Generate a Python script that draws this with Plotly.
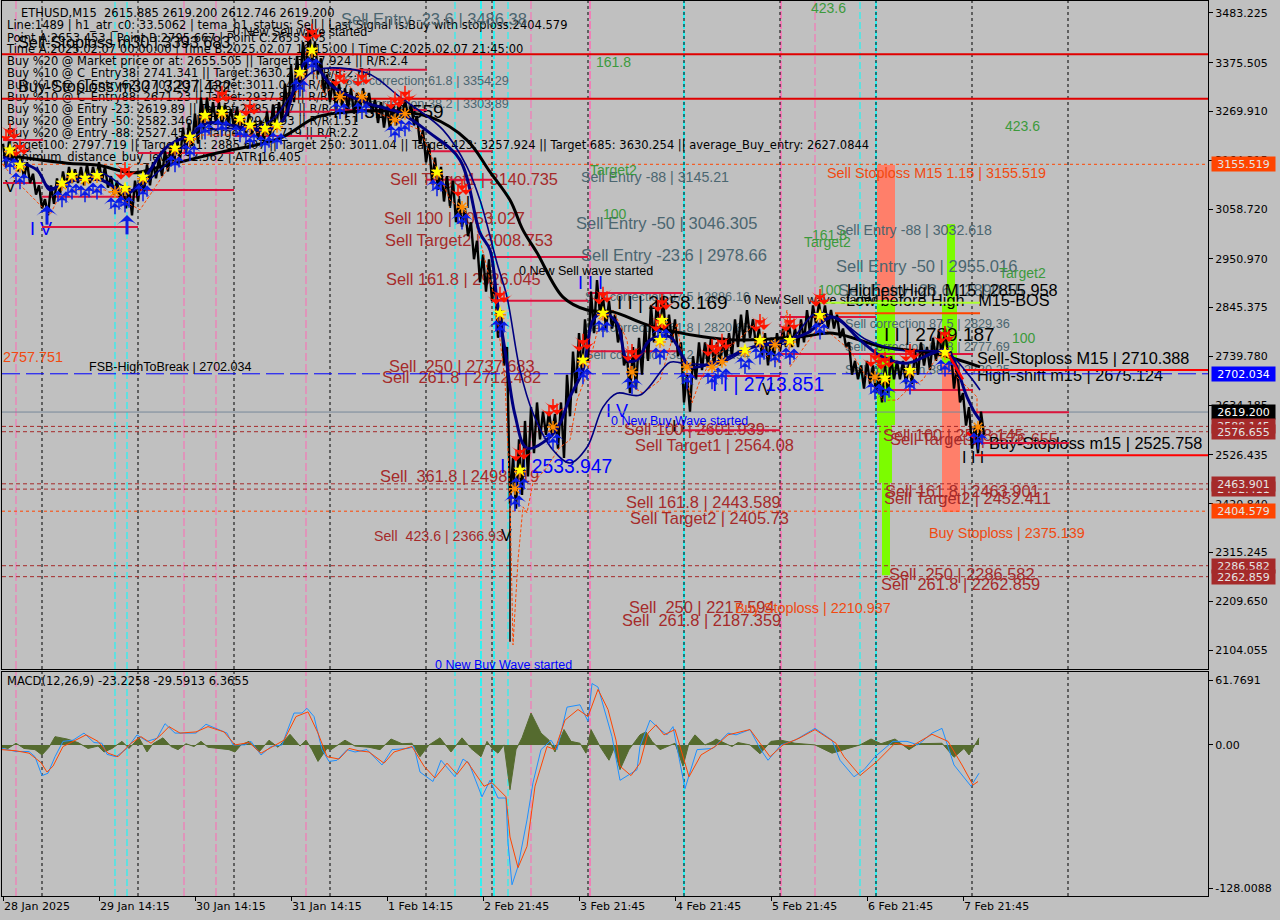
import plotly.graph_objects as go

# ---------- scales / ticks ----------
price_ticks = [3483.225,3375.505,3269.910,3164.315,3058.720,2950.970,2845.375,2739.780,2634.185,2526.435,2420.840,2315.245,2209.650,2104.055]
price_tick_text = ["3483.225","3375.505","3269.910","3164.315","3058.720","2950.970","2845.375","2739.780","2634.185","2526.435","2420.840","2315.245","2209.650","2104.055"]
macd_ticks = [54.5, 0, -121.4]
macd_tick_text = ["61.7691","0.00","-128.0088"]
time_ticks = [3,99,195,291,387,483,579,675,771,867,963]
time_text = ["28 Jan 2025","29 Jan 14:15","30 Jan 14:15","31 Jan 14:15","1 Feb 14:15","2 Feb 21:45","3 Feb 21:45","4 Feb 21:45","5 Feb 21:45","6 Feb 21:45","7 Feb 21:45"]

# ---------- price bars ----------
bar_high = [3200,3205,3190,3170,3160,3135,3110,3080,3110,3125,3140,3150,3145,3150,3155,3150,3160,3150,3130,3120,3110,3105,3120,3130,3155,3160,3170,3185,3200,3215,3235,3245,3265,3300,3300,3290,3290,3285,3275,3280,3260,3265,3250,3250,3270,3285,3290,3330,3370,3390,3420,3450,3420,3385,3350,3340,3330,3320,3320,3310,3320,3310,3295,3290,3280,3285,3290,3295,3285,3260,3230,3200,3170,3150,3130,3120,3080,3060,3030,2990,2960,2950,2900,2840,2760,2520,2560,2600,2630,2640,2620,2620,2615,2640,2700,2750,2790,2820,2880,2905,2870,2860,2830,2800,2740,2760,2780,2810,2850,2860,2870,2830,2820,2770,2700,2740,2770,2770,2780,2770,2780,2790,2820,2830,2840,2820,2800,2790,2780,2790,2800,2810,2800,2820,2840,2850,2855,2850,2840,2830,2800,2770,2730,2720,2730,2720,2700,2720,2740,2730,2730,2725,2750,2770,2760,2780,2795,2800,2750,2720,2660,2630,2590,2620]
bar_low = [3150,3160,3140,3125,3115,3090,3060,3045,3070,3090,3105,3115,3115,3110,3115,3120,3120,3105,3090,3075,3060,3045,3075,3095,3110,3125,3130,3140,3155,3165,3180,3195,3200,3230,3240,3245,3240,3245,3235,3230,3220,3220,3210,3205,3215,3230,3245,3260,3290,3320,3345,3380,3350,3310,3290,3275,3280,3275,3265,3275,3280,3265,3245,3235,3230,3240,3255,3260,3240,3200,3160,3120,3100,3075,3065,3030,3020,3000,2950,2900,2880,2860,2780,2720,2420,2410,2440,2480,2530,2560,2570,2570,2540,2520,2610,2660,2700,2730,2790,2830,2800,2800,2770,2720,2660,2670,2700,2730,2770,2790,2780,2770,2740,2640,2620,2690,2710,2720,2720,2720,2730,2740,2760,2770,2780,2760,2740,2720,2740,2750,2760,2760,2760,2770,2790,2810,2810,2800,2800,2780,2760,2700,2690,2670,2680,2660,2640,2660,2690,2690,2680,2680,2700,2720,2710,2730,2740,2740,2670,2640,2590,2540,2530,2570]
wick_x = [510,510]
wick_price = [2122,2480]

# ---------- moving averages ----------
tema_x = [3,67,97,133,160,217,280,317,350,400,430,467,490,510,523,537,563,587,613,647,703,737,800,833,883,933,980]
tema_price = [3176,3158,3154,3137,3150,3180,3212,3258,3269,3269,3258,3208,3139,3078,3013,2964,2868,2840,2836,2808,2782,2775,2782,2790,2760,2747,2717]
fast_x = [3,37,50,63,100,127,143,167,193,207,267,283,300,310,333,367,400,430,460,480,490,497,505,515,527,550,560,570,583,593,603,617,627,637,650,670,683,690,713,753,787,807,833,860,883,907,933,947,967,975,980]
fast_price = [3171,3143,3100,3115,3122,3093,3122,3193,3223,3245,3230,3251,3360,3381,3323,3288,3267,3223,3165,3007,2970,2862,2753,2613,2541,2565,2595,2652,2710,2818,2834,2812,2732,2732,2775,2782,2738,2717,2725,2760,2775,2790,2825,2775,2738,2725,2747,2753,2652,2617,2602]
slow_x = [37,50,100,133,160,200,267,300,317,367,400,443,467,480,497,507,520,533,553,570,587,603,617,640,670,683,720,753,787,817,843,867,900,947,967,980]
slow_price = [3150,3106,3137,3100,3143,3223,3245,3331,3360,3353,3301,3230,3150,3078,2942,2868,2710,2617,2537,2509,2543,2630,2660,2656,2727,2725,2725,2760,2769,2834,2812,2775,2753,2747,2704,2667]
zig_x = [3,20,50,60,75,105,140,150,170,200,250,280,310,325,340,370,420,450,475,495,505,510,513,518,523,527,533,545,560,570,577,587,600,613,627,633,643,660,670,677,683,692,700,713,730,763,763,777,787,790,820,850,862,883,897,910,923,933,947,957,977,977]
zig_price = [3154,3111,3046,3089,3100,3100,3057,3089,3154,3219,3219,3241,3371,3306,3349,3273,3230,3078,3035,2862,2688,2429,2115,2299,2414,2401,2466,2494,2543,2559,2645,2704,2818,2840,2775,2673,2660,2688,2760,2812,2725,2639,2688,2738,2760,2825,2747,2725,2840,2717,2808,2753,2710,2645,2645,2673,2689,2725,2760,2695,2652,2608]
shift_x = [947,963]
shift_price = [2749,2690]
shift2_x = [967,975]
shift2_price = [2575,2562]

# ---------- signals ----------
signal_x = [10,20,62,72,85,97,115,125,143,175,190,205,222,240,250,265,277,300,312,340,362,395,405,437,462,500,520,515,553,583,603,632,660,662,687,712,722,745,760,775,790,820,875,885,910,945,978]
signal_price = [3187,3154,3115,3132,3126,3132,3100,3104,3128,3191,3215,3262,3269,3256,3241,3234,3241,3355,3403,3306,3306,3256,3269,3139,3067,2834,2494,2457,2591,2732,2834,2710,2775,2818,2721,2721,2732,2754,2775,2769,2775,2829,2699,2693,2710,2749,2591]
down_x = [10,20,125,222,250,312,340,362,395,405,462,500,520,553,583,603,632,660,662,712,722,760,790,820,875,885,910,945]
down_price = [3187,3154,3104,3269,3241,3403,3306,3306,3256,3269,3067,2834,2494,2591,2732,2834,2710,2775,2818,2721,2732,2775,2775,2829,2699,2693,2710,2749]
star_x = [10,20,62,72,85,97,125,143,175,190,205,222,240,250,265,277,300,312,437,500,520,583,603,660,662,745,760,790,820,885,910,945]
star_price = [3187,3154,3115,3132,3126,3132,3104,3128,3191,3215,3262,3269,3256,3241,3234,3241,3355,3403,3139,2834,2494,2732,2834,2775,2818,2754,2775,2775,2829,2693,2710,2749]
big_arrow_x = [127,47]
big_arrow_price = [3046,3067]

# ---------- levels ----------
red_levels = [3393.683,3297.432]
red_short_start = [963,975]
red_short_price = [2710.388,2525.758]
orange_seg = [835,980,2833]
lime_seg = [815,980,2856]
brown_levels = [2588.145,2576.655,2463.901,2452.411,2286.582,2262.859]
orange_levels = [3155.519,2404.579]
fsb_level = 2702.034
last_price = 2619.200
seg_start = [3,3,42,42,138,138,234,234,330,330,427,427,492,492,588,588,683,683,780,780,877,877,973,973]
seg_end = [43,42,138,138,234,234,330,330,427,427,492,492,588,588,683,683,780,780,876,876,973,973,1069,1069]
seg_price = [3208,3115,3085,3020,3180,3100,3269,3217,3273,3360,3184,3122,2955,2860,2877,2751,2697,2580,2825,2745,2745,2667,2619,2552]

# ---------- bands ----------
band_x0 = [877,877,879,882,947,942,942]
band_x1 = [895,895,892,890,955,957,960]
band_top = [3154,2862,2591,2466,3026,2851,2725]
band_bot = [2862,2591,2466,2266,2851,2725,2403]
band_col = ["#FF7F6A","#7CFC00","#7CFC00","#7CFC00","#7CFC00","#7CFC00","#FF7F6A"]

# ---------- vertical separators ----------
sep_black = [42,138,234,330,426,492,588,684,780,876,972,1068]
sep_pink = [16,184,216,306,531,815]
sep_pink_bold = [590,781]
sep_cyan = [115,127,455,508,860]
sep_cyan_bold = [481,494,684,876]

# ---------- MACD ----------
macd_x = [2,16,29,35,42,48,55,63,73,84,94,102,107,116,127,137,147,157,165,175,186,196,206,216,227,233,245,251,261,271,282,294,302,307,314,322,329,337,347,355,367,382,392,408,414,420,433,441,455,463,469,482,490,498,506,508,512,518,527,533,541,551,557,567,580,588,592,598,612,620,637,640,650,660,667,673,685,697,713,728,736,750,760,768,781,795,815,832,840,854,864,875,893,907,918,932,942,954,971,979]
macd_val = [-3,-5.6,-5.6,-10,-26,-24,-10,3,4,10,2,1.4,-8,-10,-3,8.5,3,5.6,18,10,10,10,17.5,14,10,0,0,3,-8.5,-1.4,0,27,27,31,24,-4,-14,-13,-4,-6,-4,-17,-4,-3,-1.4,-23,-31,-13,-27,-12,-15.5,-44,-30,-45,-45,-83,-118.5,-103,-63.5,-32,-4,4,-4,32,34,20,52,49,7,-30,-21,-1.4,21,13,8.5,15.5,-37,-4,-3,10,8.5,13,-3,-13,0,4,14,4,-13,-27,-21,-10,3,3,0,10,14,-17,-35,-24]
sig_x = [2,16,29,41,47,53,63,73,86,98,108,118,131,141,151,161,169,180,196,208,224,235,249,261,273,284,296,308,318,327,339,349,359,369,384,394,412,424,435,447,457,467,484,492,506,510,518,527,535,547,555,565,578,588,598,608,616,620,631,640,648,656,664,675,689,701,715,728,750,762,770,783,799,815,836,844,860,877,895,911,932,948,962,973,978]
sig_val = [-4,-5,-7,-15,-23,-18,-1.4,3,8.5,3,-7,-10,1.4,7,1.4,8.5,15.5,10,11,15.5,11,0,2,-7,-1,4,24,28,10,-10,-12,-3,-5,-6,-15.5,-6,-1.4,-18,-28,-15.5,-25,-14,-35,-32,-44,-78,-104,-86,-35,-1.4,-4,21,30,24,47,30,4,-18,-26,-15.5,10,17,8.5,13,-27,-8.5,-1.4,8.5,13,-1.4,-10,0,5.6,13,1.4,-10,-26,-14,1.4,-1.4,9,3,-17,-34,-31]
hist_x = [2,8,16,24,35,42,49,55,67,78,88,98,104,112,122,129,139,147,153,163,171,178,186,194,201,208,229,235,241,249,259,269,278,290,300,306,312,318,327,331,345,355,369,380,391,402,412,420,429,440,451,462,471,481,487,492,498,504,510,516,522,531,541,549,555,564,571,580,586,591,600,609,614,620,629,640,646,652,660,675,683,689,695,705,713,716,732,738,750,760,771,781,795,815,832,848,860,871,881,895,909,918,942,954,964,969,979]
hist_val = [-2,-3,1.4,-3,-4,-8.5,-2,7,5,2,-3,-1,-6,-3,3,-3,6,-6,1,6,-1.4,-4,1,-1.4,3,-2,-4,-6,0,3,-6,4,-2,9,-1,4,-4,-14,-3,-4,4,-1,-2,-4,5,1,1.4,-10,0,6,-6,6,-3,-10,3,-3,-7,0,-38,-4,6,27,10,4,-6,13,3,1.4,-7,13,-1.4,-13,-3,-21,-4,8.5,11,3,-4,1.4,-18,1.4,8.5,0,3,5,-1.4,2,0,-7.5,3,4,1.4,0,-7,-3,0,5,1,5,-4,1,1.4,-10.5,-3,-8.5,6]

# ---------- texts ----------
info_text = ["Line:1489 | h1_atr_c0: 33.5062 | tema_h1_status: Sell | Last Signal is:Buy with stoploss:2404.579",
 "Point A:2653.453 | Point B:2795.667 | Point C:2655.505",
 "Time A:2025.02.07 00:00:00 | Time B:2025.02.07 16:15:00 | Time C:2025.02.07 21:45:00",
 "Buy %20 @ Market price or at: 2655.505 || Target:3257.924 || R/R:2.4",
 "Buy %10 @ C_Entry38: 2741.341 || Target:3630.254 || R/R:2.64",
 "Buy %10 @ C_Entry62: 2707.23 || Target:3011.04 || R/R:1.7",
 "Buy %10 @ C_Entry88: 2671.23 || Target:2937.88 || R/R:1.6",
 "Buy %10 @ Entry -23: 2619.89 || Target:2885.607 || R/R:1.5",
 "Buy %20 @ Entry -50: 2582.346 || Target:2948.93 || R/R:1.51",
 "Buy %20 @ Entry -88: 2527.451 || Target:2797.719 || R/R:2.2",
 "Target100: 2797.719 || Target 161: 2885.607 || Target 250: 3011.04 || Target 423: 3257.924 || Target 685: 3630.254 || average_Buy_entry: 2627.0844",
 "minimum_distance_buy_level: 32.562 | ATR:16.405",
 "ETHUSD,M15  2615.885 2619.200 2612.746 2619.200"]
info_x = [7,7,7,7,7,7,7,7,7,7,7,7,21]
info_price = [3457,3430,3405,3379,3353,3327,3301,3275,3249,3223,3197,3171,3484]

brown_text = ["Sell Target1 | 3140.735","Sell 100 | 3053.027","Sell Target2 | 3008.753","Sell 161.8 | 2926.045","Sell  250 | 2737.683","Sell  261.8 | 2712.482","Sell 100 | 2601.939","Sell Target1 | 2564.08","Sell  361.8 | 2498.619","Sell 161.8 | 2443.589","Sell Target2 | 2405.73","Sell  250 | 2217.594","Sell  261.8 | 2187.359","Sell 100 | 2588.145","Sell Target1 | 2576.655","Sell 161.8 | 2463.901","Sell Target2 | 2452.411","Sell  250 | 2286.582","Sell  261.8 | 2262.859"]
brown_x = [390,384,385,386,389,382,624,635,380,626,630,629,622,883,890,885,884,889,881]
brown_price = [3122,3039,2990,2907,2717,2693,2582,2546,2479,2424,2388,2197,2169,2569,2559,2448,2433,2268,2245]
brown_small_text = ["Sell  423.6 | 2366.93"]
brown_small_x = [374]
brown_small_price = [2351]

slate_big_text = ["Sell Entry -23.6 | 3486.38","Sell Entry -50 | 3046.305","Sell Entry -23.6 | 2978.66","Sell Entry -50 | 2955.016","Sell Entry -23.6 | 2890.15"]
slate_big_x = [341,576,581,836,838]
slate_big_price = [3468,3028,2959,2935,2883]
slate_mid_text = ["Sell Entry -88 | 3145.21","Sell Entry -88 | 3032.618"]
slate_mid_x = [581,836]
slate_mid_price = [3128,3013]
slate_small_text = ["Sell correction 61.8 | 3354.29","Sell correction 38.2 | 3303.89","Sell correction 87.5 | 2886.16","Sell correction 61.8 | 2820.85","Sell correction 38.2 | 2773.94","Sell correction 87.5 | 2829.36","Sell correction 61.8 | 2777.69","Sell correction 38.2 | 2730.25"]
slate_small_x = [344,344,585,585,585,845,845,845]
slate_small_price = [3338,3288,2870,2803,2743,2812,2762,2712]

green_text = ["161.8","423.6","423.6","Target2","100","161.8","Target2","Target2","100","100"]
green_x = [596,811,1005,590,603,812,804,999,818,1012]
green_price = [3377,3494,3238,3143,3048,3002,2987,2920,2883,2779]

black_big_text = ["Sell-Stoploss m30 | 3393.683","Buy-Stoploss m30 | 3297.432","HighestHigh  M15 | 2855.958","Low before High   M15-BOS","Sell-Stoploss M15 | 2710.388","High-shift m15 | 2675.124","Buy-Stoploss m15 | 2525.758"]
black_big_x = [18,18,847,846,977,977,989]
black_big_price = [3420,3323,2883,2860,2736,2699,2550]
black_huge_text = ["I I | 3278.559","I I | 2858.169","I I | 2789.187"]
black_huge_x = [333,617,884]
black_huge_price = [3269,2855,2786]
black_note_text = ["0 New Sell wave started","0 New Sell wave started","0 New Sell wave started","FSB-HighToBreak | 2702.034"]
black_note_x = [233,519,744,89]
black_note_price = [3444,2925,2862,2717]
wave_text = ["V","I I I","V","I I","V","I I I","I"]
wave_x = [5,448,762,672,501,962,258]
wave_price = [3108,3072,2667,2587,2351,2520,3165]

blue_huge_text = ["I I | 2713.851","I I | 2533.947"]
blue_huge_x = [712,500]
blue_huge_price = [2678,2500]
blue_note_text = ["0 New Buy Wave started","0 New Buy Wave started"]
blue_note_x = [611,435]
blue_note_price = [2602,2072]
blue_wave_text = ["I V","I V","I I I"]
blue_wave_x = [606,30,578]
blue_wave_price = [2621,3015,2899]

orange_text = ["Sell Stoploss M15 1.15 | 3155.519","Buy Stoploss | 2210.937","Buy Stoploss | 2375.139","2757.751"]
orange_x = [827,735,929,3]
orange_price = [3137,2195,2357,2738]

macd_title = ["MACD(12,26,9) -23.2258 -29.5913 6.3655"]

box_text = ["3155.519","2702.034","2619.200","2588.145","2576.655","2452.411","2463.901","2404.579","2286.582","2262.859"]
box_price = [3155.519,2702.034,2619.2,2588.145,2576.655,2452.411,2463.901,2404.579,2286.582,2262.859]
box_col = ["#FF4500","#0000FF","#000000","#A52A2A","#A52A2A","#A52A2A","#A52A2A","#FF4500","#A52A2A","#A52A2A"]

# ---------- style ----------
BG = "#C0C0C0"
TAHOMA = "DejaVu Sans"
ARIAL = "Liberation Sans"
BROWN = "#A52A2A"
SLATE = "#4B6670"
GREEN = "#3C9A3C"
W, H = 1280, 920

fig = go.Figure()

def text_trace(txt, xs, ys, size, color, font=ARIAL, axis="y"):
    shown = [p - 3 for p in ys] if axis == "y" else ys
    fig.add_trace(go.Scatter(x=xs, y=shown, text=txt, mode="text", textposition="middle right",
                             textfont=dict(size=size, color=color, family=font),
                             yaxis=axis, xaxis="x" if axis == "y" else "x2", showlegend=False, hoverinfo="skip", cliponaxis=True))

def line_trace(xs, ys, color, width, dash="solid", axis="y", shape="linear"):
    fig.add_trace(go.Scatter(x=xs, y=ys, mode="lines", line=dict(color=color, width=width, dash=dash, shape=shape),
                             yaxis=axis, xaxis="x" if axis == "y" else "x2", showlegend=False, hoverinfo="skip", connectgaps=False))

def segments(starts, ends, prices):
    xs, ys = [], []
    for a, b, p in zip(starts, ends, prices):
        xs += [a, b, None]
        ys += [p, p, None]
    return xs, ys

# bands as shapes
shapes = []
for a, b, t, l, c in zip(band_x0, band_x1, band_top, band_bot, band_col):
    shapes.append(dict(type="rect", xref="x", yref="y", x0=a, x1=b, y0=l, y1=t, fillcolor=c, line=dict(width=0), layer="below"))
for xs, col, dash, wd in ((sep_cyan, "#00FFFF", "7px,3px", 1), (sep_cyan_bold, "#00FFFF", "8px,2px", 1.5),
                          (sep_pink, "#FF69B4", "8px,3px", 1), (sep_pink_bold, "#FF69B4", "8px,2px", 1.5),
                          (sep_black, "#000000", "3px,3px", 1)):
    for v in xs:
        for ref in ("y domain", "y2 domain"):
            shapes.append(dict(type="line", xref="x", yref=ref, x0=v, x1=v, y0=0, y1=1, line=dict(color=col, width=wd, dash=dash), layer="below"))

# text beneath the marks
text_trace(info_text, info_x, info_price, 11.5, "#000000", TAHOMA)
text_trace(brown_text, brown_x, brown_price, 16.4, BROWN)
text_trace(brown_small_text, brown_small_x, brown_small_price, 14.2, BROWN)
text_trace(slate_big_text, slate_big_x, slate_big_price, 16.5, SLATE)
text_trace(slate_mid_text, slate_mid_x, slate_mid_price, 14.2, SLATE)
text_trace(slate_small_text, slate_small_x, slate_small_price, 12.7, SLATE)
text_trace(green_text, green_x, green_price, 14, GREEN)
text_trace(black_big_text, black_big_x, black_big_price, 16.3, "#000000")
text_trace(black_huge_text, black_huge_x, black_huge_price, 19, "#000000")
text_trace(black_note_text, black_note_x, black_note_price, 12.5, "#000000")
text_trace(wave_text, wave_x, wave_price, 16, "#000000")
text_trace(blue_huge_text, blue_huge_x, blue_huge_price, 19.3, "#0000FF")
text_trace(blue_note_text, blue_note_x, blue_note_price, 12.5, "#0000FF")
text_trace(blue_wave_text, blue_wave_x, blue_wave_price, 18, "#0000FF")
text_trace(orange_text, orange_x, orange_price, 14.4, "#F04A10")

# horizontal levels
line_trace([2, 1208], [last_price, last_price], "#778899", 1)
line_trace([2, 1208], [fsb_level, fsb_level], "#0000FF", 1, "18px,6px")
for p in brown_levels:
    line_trace([2, 1208], [p, p], BROWN, 1, "4px,3px")
for p in orange_levels:
    line_trace([2, 1208], [p, p], "#FF4500", 1, "3px,3px")
for p in red_levels:
    line_trace([2, 1208], [p, p], "#E00000", 2)
sx, sy = segments(red_short_start, [1208, 1208], red_short_price)
line_trace(sx, sy, "#FF0000", 2)
line_trace([orange_seg[0], orange_seg[1]], [orange_seg[2], orange_seg[2]], "#FF4500", 2)
line_trace([lime_seg[0], lime_seg[1]], [lime_seg[2], lime_seg[2]], "#ADFF2F", 2)
sx, sy = segments(seg_start, seg_end, seg_price)
line_trace(sx, sy, "#DC143C", 2)

# price bars, drawn as one jagged high/low path
cx, cy = [], []
for i, (h, l) in enumerate(zip(bar_high, bar_low)):
    x = 3 + 6 * i
    cx += [x, x + 3]
    cy += [h, l]
line_trace(cx, cy, "#000000", 2.4)
line_trace(wick_x, wick_price, "#000000", 1.5)

# indicators
line_trace(zig_x, zig_price, "#FF4500", 1, "3px,2px")
line_trace(tema_x, tema_price, "#000000", 3, shape="spline")
line_trace(slow_x, slow_price, "#000080", 1.6, shape="spline")
line_trace(fast_x, fast_price, "#000080", 3, shape="spline")
line_trace(shift_x, shift_price, "#FF0000", 2.5)
line_trace(shift2_x, shift2_price, "#FF0000", 2.5)

# signal marks
def marks(xs, ys, symbol, color, size, angle=0, lw=0, lc=None):
    fig.add_trace(go.Scatter(x=xs, y=ys, mode="markers",
                             marker=dict(symbol=symbol, color=color, size=size, angle=angle, line=dict(width=lw, color=lc or color)),
                             xaxis="x", yaxis="y", showlegend=False, hoverinfo="skip", cliponaxis=True))

BLUE_M = "#0A1EE6"
RED_M = "#FF1400"
for dx, dp in ((-4, -16), (4, -18), (0, -28)):
    marks([x + dx for x in signal_x], [p + dp for p in signal_price], "arrow-wide", BLUE_M, 10)
    marks([x + dx for x in signal_x], [p + dp - 14 for p in signal_price], "line-ns", BLUE_M, 7, lw=1.5)
for dx, dp in ((-4, 18), (4, 22), (0, 32)):
    marks([x + dx for x in down_x], [p + dp for p in down_price], "arrow-wide", RED_M, 12, angle=180)
    marks([x + dx for x in down_x], [p + dp + 14 for p in down_price], "line-ns", RED_M, 7, lw=1.5)
marks(signal_x, [p - 4 for p in signal_price], "asterisk-open", "#FF8C00", 10, lw=1.5, lc="#FF8C00")
marks(star_x, star_price, "star", "#FFFF00", 10)
marks(big_arrow_x, big_arrow_price, "arrow-wide", BLUE_M, 15)
marks(big_arrow_x, [p - 24 for p in big_arrow_price], "line-ns", BLUE_M, 12, lw=3)

# MACD
fig.add_trace(go.Scatter(x=hist_x, y=hist_val, mode="lines", fill="tozeroy", fillcolor="#556B2F",
                         line=dict(color="#556B2F", width=1), xaxis="x2", yaxis="y2", showlegend=False, hoverinfo="skip"))
line_trace(macd_x, macd_val, "#1E90FF", 1, axis="y2")
line_trace(sig_x, sig_val, "#FF4500", 1, axis="y2")
text_trace(macd_title, [7], [53.4], 11.5, "#000000", TAHOMA, axis="y2")

annotations = [dict(xref="paper", yref="y", x=1211/W, y=p, xanchor="left", yanchor="middle", text=t, showarrow=False,
                    font=dict(family=TAHOMA, size=11, color="#FFFFFF" if c in ("#000000", "#0000FF") else "#E4E4E4"),
                    bgcolor=c, width=63, height=14, align="center", borderpad=0)
               for t, p, c in zip(box_text, box_price, box_col)]

def xaxis(anchor, labels):
    return dict(domain=[2/W, 1208/W], range=[2, 1208], anchor=anchor, showgrid=False, zeroline=False,
                showline=True, mirror=True, linecolor="#000000", linewidth=1,
                tickmode="array", tickvals=time_ticks, ticktext=time_text if labels else [""] * len(time_ticks),
                ticks="outside" if labels else "", ticklen=4, tickcolor="#000000",
                showticklabels=labels, ticklabelposition="outside right",
                tickfont=dict(family=TAHOMA, size=11, color="#000000"))

def yaxis(dom, rng, vals, txt, anchor):
    return dict(domain=dom, range=rng, side="right", anchor=anchor, showgrid=False, zeroline=False,
                showline=True, mirror=True, linecolor="#000000", linewidth=1,
                tickmode="array", tickvals=vals, ticktext=txt, ticks="outside", ticklen=4, tickcolor="#000000",
                tickfont=dict(family=TAHOMA, size=11, color="#000000"))

fig.update_layout(
    width=W, height=H, margin=dict(l=0, r=0, t=0, b=0), paper_bgcolor=BG, plot_bgcolor=BG,
    showlegend=False, hovermode=False, shapes=shapes, annotations=annotations,
    xaxis=xaxis("y", False), xaxis2=xaxis("y2", True),
    yaxis=yaxis([251/H, 919/H], [2063, 3509], price_ticks, price_tick_text, "x"),
    yaxis2=yaxis([24/H, 248/H], [-128.0088, 61.7691], macd_ticks, macd_tick_text, "x2"),
)
fig.write_html("out.html", config=dict(displayModeBar=False), post_script="document.body.style.margin='0';")
